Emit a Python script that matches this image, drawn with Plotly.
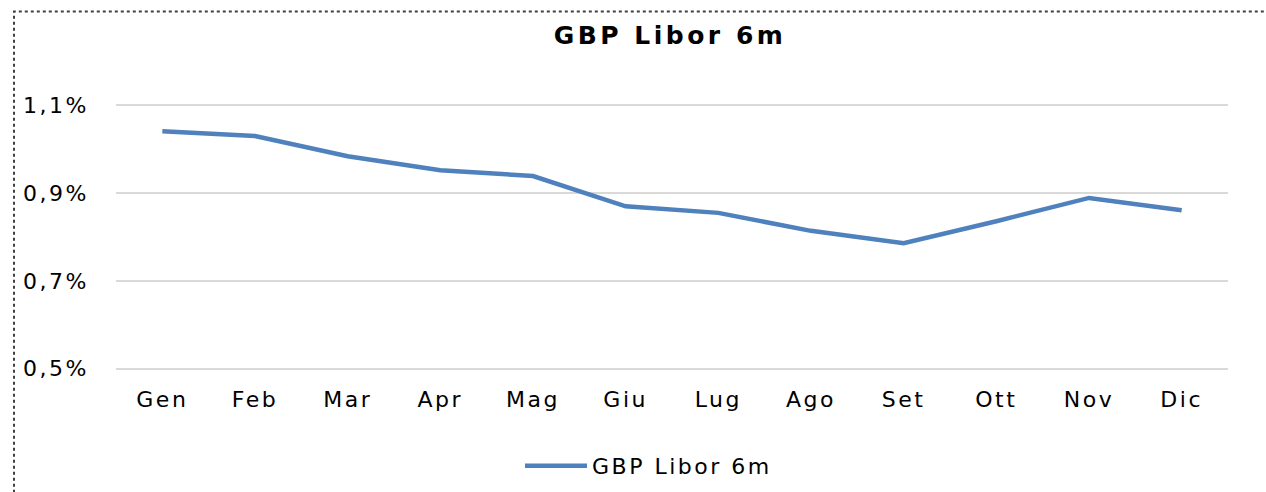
import plotly.graph_objects as go

months = ["Gen", "Feb", "Mar", "Apr", "Mag", "Giu", "Lug", "Ago", "Set", "Ott", "Nov", "Dic"]
libor_6m = [1.041, 1.030, 0.984, 0.952, 0.939, 0.870, 0.855, 0.814, 0.786, 0.836, 0.889, 0.861]
y_ticks = [0.5, 0.7, 0.9, 1.1]
y_tick_labels = ["0,5%", "0,7%", "0,9%", "1,1%"]

W, H = 1266, 492
y_lo, y_hi = 0.497, 1.103
px_per_unit = 440.0
L, R = 116, 38
T = 105 - (y_hi - 1.1) * px_per_unit
B = H - (369 + (0.5 - y_lo) * px_per_unit)
pw, ph = W - L - R, H - T - B

font_family = "DejaVu Sans, Verdana, sans-serif"

fig = go.Figure()
fig.add_trace(go.Scatter(
    x=months, y=libor_6m, mode="lines", name="GBP Libor 6m",
    line=dict(color="#4f81bd", width=4.5),
))

fig.update_layout(
    width=W, height=H,
    margin=dict(l=L, r=R, t=T, b=B, autoexpand=False),
    paper_bgcolor="white", plot_bgcolor="white",
    title=dict(text="<b>GBP Libor 6m</b>", x=670 / W, xanchor="center",
               y=1 - 35 / H, yanchor="middle",
               font=dict(family=font_family, size=25, color="black")),
    showlegend=True,
    legend=dict(orientation="h", xref="container", yref="container",
                x=520 / W, xanchor="left",
                y=1 - 466 / H, yanchor="middle",
                font=dict(family=font_family, size=22, color="black"),
                itemwidth=62, entrywidth=300, entrywidthmode="pixels",
                bgcolor="rgba(0,0,0,0)"),
    xaxis=dict(showgrid=False, showline=False, ticks="",
               ticklabelstandoff=14,
               tickfont=dict(family=font_family, size=22, color="black"),
               range=[-0.5, 11.5]),
    yaxis=dict(range=[y_lo, y_hi], tickvals=y_ticks, ticktext=y_tick_labels,
               showgrid=True, gridcolor="#d9d9d9", gridwidth=1.5,
               zeroline=False, showline=False, ticks="",
               ticklabelstandoff=26,
               tickfont=dict(family=font_family, size=22, color="black")),
)

fig.add_shape(type="rect", xref="paper", yref="paper",
              x0=(14 - L) / pw, x1=(1290 - L) / pw,
              y0=(H - B - 510) / ph, y1=(H - B - 11) / ph,
              line=dict(color="#404040", width=2, dash="dot"),
              fillcolor="rgba(0,0,0,0)", layer="below")

css_js = """
var s = document.createElement('style');
s.textContent = 'body{margin:0;padding:0;}' +
  '.xtick text, .ytick text, .legendtext {letter-spacing:2.5px;}' +
  '.gtitle {letter-spacing:3.5px;}';
document.head.appendChild(s);
"""

fig.write_html("out.html", post_script=css_js, config={"displayModeBar": False})
